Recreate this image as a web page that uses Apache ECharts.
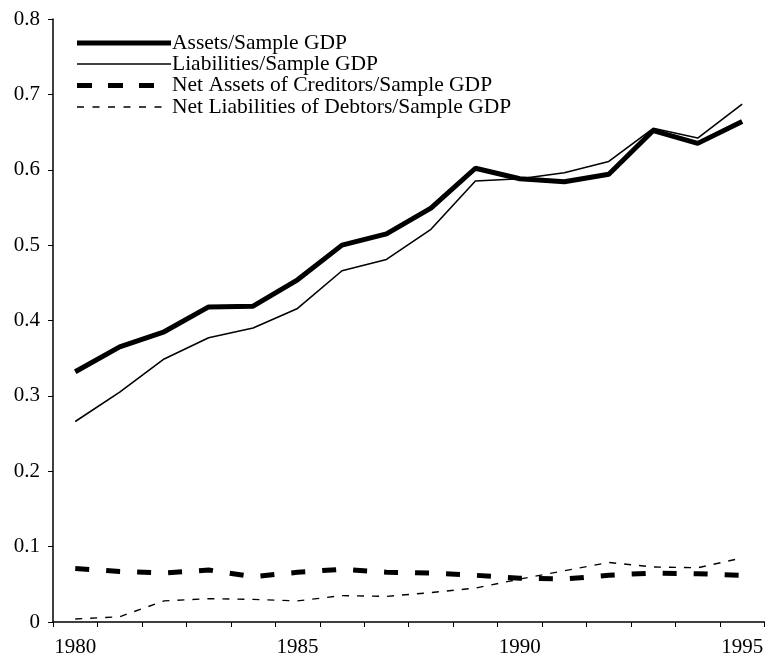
<!DOCTYPE html>
<html>
<head>
<meta charset="utf-8">
<script src="https://cdn.jsdelivr.net/npm/echarts@6/dist/echarts.min.js"></script>
<style>html,body{margin:0;padding:0;background:#fff}#c{width:766px;height:658px}</style>
</head>
<body>
<div id="c"></div>
<script>
var years = ['1980','1981','1982','1983','1984','1985','1986','1987','1988','1989','1990','1991','1992','1993','1994','1995'];
var assets = [0.332,0.365,0.385,0.418,0.419,0.454,0.500,0.515,0.549,0.602,0.588,0.584,0.594,0.652,0.635,0.664];
var liabilities = [0.266,0.305,0.349,0.377,0.390,0.416,0.466,0.481,0.521,0.585,0.588,0.596,0.611,0.655,0.642,0.687];
var netAssetsCreditors = [0.071,0.067,0.065,0.069,0.060,0.066,0.070,0.066,0.065,0.062,0.058,0.057,0.062,0.065,0.064,0.062];
var netLiabDebtors = [0.004,0.007,0.028,0.031,0.030,0.028,0.035,0.034,0.039,0.045,0.057,0.068,0.079,0.073,0.072,0.085];
var seriesNames = ['Assets/Sample GDP','Liabilities/Sample GDP','Net Assets of Creditors/Sample GDP','Net Liabilities of Debtors/Sample GDP'];

var font = '"Liberation Serif","Times New Roman",serif';
var styles = [
  {width: 5, dash: null, legendDash: null, legendEnd: 171},
  {width: 1.6, dash: null, legendDash: null, legendEnd: 171},
  {width: 5, dash: [14,17], legendDash: [15,16], legendEnd: 154},
  {width: 1.4, dash: [7,8], legendDash: [7,8.5], legendEnd: 162}
];
var rowY = [43, 64, 85.5, 107];

var chart = echarts.init(document.getElementById('c'));

var legendGraphics = [];
seriesNames.forEach(function(name, i){
  var st = styles[i];
  legendGraphics.push({
    type: 'line', silent: true,
    shape: {x1: 77, y1: rowY[i], x2: st.legendEnd, y2: rowY[i]},
    style: {stroke: '#000', lineWidth: st.width, lineDash: st.legendDash, lineCap: 'butt'}
  });
  legendGraphics.push({
    type: 'text', silent: true, x: 172, y: rowY[i],
    style: {text: name, font: '21.5px ' + font, fill: '#000', textAlign: 'left', textVerticalAlign: 'middle'}
  });
});

var dataArrays = [assets, liabilities, netAssetsCreditors, netLiabDebtors];
chart.setOption({
  animation: false,
  backgroundColor: '#fff',
  textStyle: {fontFamily: font, color: '#000'},
  grid: {left: 53, top: 19, width: 717, bottom: 35.5, containLabel: false},
  graphic: legendGraphics,
  xAxis: {
    type: 'category', data: years, boundaryGap: true,
    axisLine: {lineStyle: {color: '#000', width: 1.5}},
    axisTick: {show: true, interval: 0, length: 5, lineStyle: {color: '#000', width: 1}},
    axisLabel: {interval: 4, fontFamily: font, fontSize: 21, color: '#000', margin: 15},
    splitLine: {show: false}
  },
  yAxis: {
    type: 'value', min: 0, max: 0.8, interval: 0.1,
    axisLine: {show: true, lineStyle: {color: '#000', width: 1.5}},
    axisTick: {show: true, length: 5, lineStyle: {color: '#000', width: 1}},
    axisLabel: {fontFamily: font, fontSize: 21, color: '#000', margin: 13,
      formatter: function(v){ return v === 0 ? '0' : v.toFixed(1); }},
    splitLine: {show: false}
  },
  series: seriesNames.map(function(name, i){
    var st = styles[i];
    return {
      name: name, type: 'line', data: dataArrays[i], symbol: 'none',
      lineStyle: {color: '#000', width: st.width, type: st.dash ? st.dash : 'solid', cap: 'butt'},
      itemStyle: {color: '#000'}
    };
  })
});
</script>
</body>
</html>
